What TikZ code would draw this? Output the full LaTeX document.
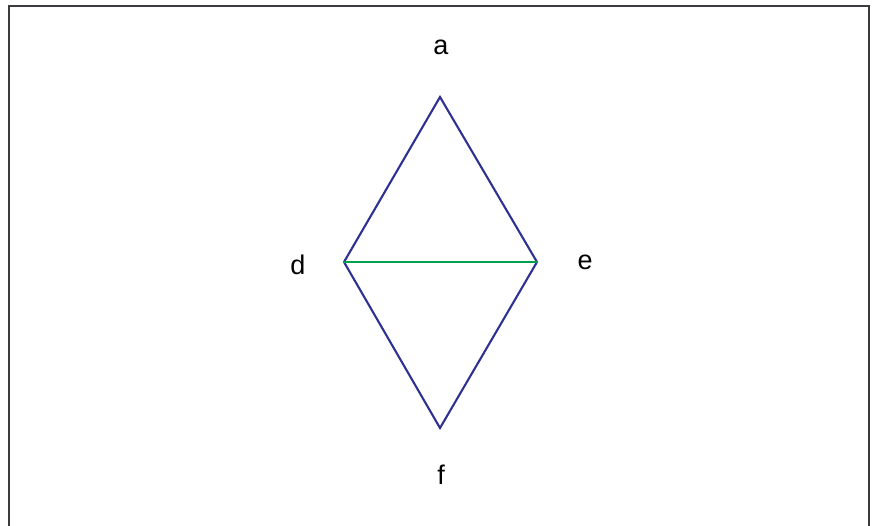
\documentclass[tikz,border=0pt]{standalone}
\usepackage{fontspec}
\setmainfont{Liberation Sans}
\begin{document}
\begin{tikzpicture}[x=1pt,y=-1pt,
  lbl/.style={font=\fontsize{27}{31}\selectfont, inner sep=0pt},
  edgeblue/.style={draw={rgb,255:red,46;green,49;blue,146}, line width=2.1pt, line join=miter},
  edgegreen/.style={draw={rgb,255:red,0;green,160;blue,80}, line width=2.1pt}]
\useasboundingbox (0,0) rectangle (872,525);
\draw[draw={rgb,255:red,60;green,60;blue,64}, line width=2.6pt] (9,540) -- (9,6) -- (869,6) -- (869,540);
\coordinate (A) at (440,97);
\coordinate (D) at (344,262);
\coordinate (E) at (537,262);
\coordinate (F) at (440,428);
\node[lbl] (la) at (441,47) {a};
\node[lbl] (ld) at (298,265) {d};
\node[lbl] (le) at (585,262) {e};
\node[lbl] (lf) at (441,475) {f};
\draw[edgeblue] (D) -- (A) -- (E);
\draw[edgeblue] (D) -- (F) -- (E);
\draw[edgegreen] (D) -- (E);
\end{tikzpicture}
\end{document}
